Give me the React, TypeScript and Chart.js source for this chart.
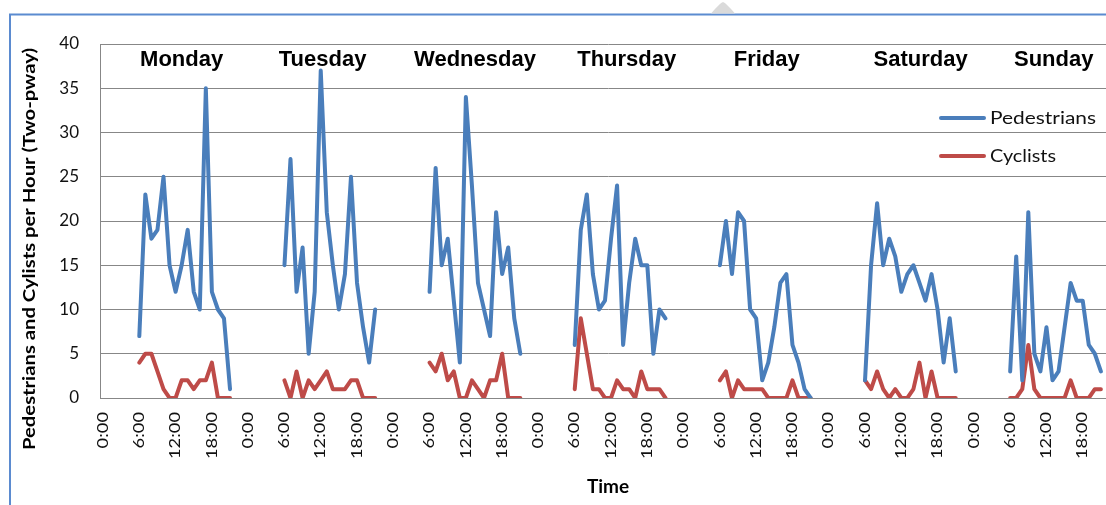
import React, { useEffect, useRef } from 'react';
import { Chart, registerables } from 'chart.js';

Chart.register(...registerables);

// ---------- data ----------
const dayNames = ['Monday', 'Tuesday', 'Wednesday', 'Thursday', 'Friday', 'Saturday', 'Sunday'];
const hourTickLabels = ['0:00', '6:00', '12:00', '18:00'];
const firstHour = 6; // each day's values start at 6:00 and run hourly

// Pedestrians per hour, 6:00 .. 21:00
const pedMon = [7, 23, 18, 19, 25, 15, 12, 15, 19, 12, 10, 35, 12, 10, 9, 1];
const pedTue = [15, 27, 12, 17, 5, 12, 37, 21, 15, 10, 14, 25, 13, 8, 4, 10];
const pedWed = [12, 26, 15, 18, 11, 4, 34, 24, 13, 10, 7, 21, 14, 17, 9, 5];
const pedThu = [6, 19, 23, 14, 10, 11, 18, 24, 6, 13, 18, 15, 15, 5, 10, 9];
const pedFri = [15, 20, 14, 21, 20, 10, 9, 2, 4, 8, 13, 14, 6, 4, 1, 0];
const pedSat = [2, 15, 22, 15, 18, 16, 12, 14, 15, 13, 11, 14, 10, 4, 9, 3];
const pedSun = [3, 16, 2, 21, 5, 3, 8, 2, 3, 8, 13, 11, 11, 6, 5, 3];

// Cyclists per hour, 6:00 .. 21:00
const cycMon = [4, 5, 5, 3, 1, 0, 0, 2, 2, 1, 2, 2, 4, 0, 0, 0];
const cycTue = [2, 0, 3, 0, 2, 1, 2, 3, 1, 1, 1, 2, 2, 0, 0, 0];
const cycWed = [4, 3, 5, 2, 3, 0, 0, 2, 1, 0, 2, 2, 5, 0, 0, 0];
const cycThu = [1, 9, 5, 1, 1, 0, 0, 2, 1, 1, 0, 3, 1, 1, 1, 0];
const cycFri = [2, 3, 0, 2, 1, 1, 1, 1, 0, 0, 0, 0, 2, 0, 0, 0];
const cycSat = [2, 1, 3, 1, 0, 1, 0, 0, 1, 4, 0, 3, 0, 0, 0, 0];
const cycSun = [0, 0, 1, 6, 1, 0, 0, 0, 0, 0, 2, 0, 0, 0, 1, 1];

// hour of the day (within each day) where the day title is centred
const dayTitleHour = [13, 12.3, 13.5, 14.6, 13.75, 15.2, 13.2];

const BLUE = '#4a7ebb';
const RED = '#be4b48';

// ---------- build table ----------
const categories: string[] = [];
dayNames.forEach((d) => {
  for (let h = 0; h < 24; h++) categories.push(`${d} ${h}:00`);
});

function buildWeek(days: number[][]): (number | null)[] {
  const out: (number | null)[] = [];
  days.forEach((day) => {
    for (let h = 0; h < 24; h++) {
      const k = h - firstHour;
      out.push(k >= 0 && k < day.length ? day[k] : null);
    }
  });
  return out;
}

const pedestrians = buildWeek([pedMon, pedTue, pedWed, pedThu, pedFri, pedSat, pedSun]);
const cyclists = buildWeek([cycMon, cycTue, cycWed, cycThu, cycFri, cycSat, cycSun]);

function fitText(ctx: CanvasRenderingContext2D, text: string, target: number) {
  const w = ctx.measureText(text).width;
  return w > 0 ? target / w : 1;
}

const decorPlugin = {
  id: 'decor',
  beforeDraw(chart: any) {
    const ctx: CanvasRenderingContext2D = chart.ctx;
    ctx.save();
    ctx.fillStyle = '#ffffff';
    ctx.fillRect(0, 0, chart.width, chart.height);
    // outer frame (blue)
    ctx.strokeStyle = '#5b8bd0';
    ctx.lineWidth = 2;
    ctx.beginPath();
    ctx.moveTo(10, chart.height);
    ctx.lineTo(10, 14.5);
    ctx.lineTo(chart.width, 14.5);
    ctx.stroke();
    // small grey tab
    ctx.fillStyle = '#dadada';
    ctx.beginPath();
    ctx.moveTo(711, 13.5);
    ctx.quadraticCurveTo(720, 3, 723, 2);
    ctx.quadraticCurveTo(726, 3, 735, 13.5);
    ctx.closePath();
    ctx.fill();
    ctx.restore();
  },
  afterDraw(chart: any) {
    const ctx: CanvasRenderingContext2D = chart.ctx;
    const xs = chart.scales.x;
    ctx.save();
    ctx.fillStyle = '#000';

    // day titles
    ctx.font = 'bold 22px "Liberation Sans", Arial, sans-serif';
    ctx.textAlign = 'center';
    ctx.textBaseline = 'alphabetic';
    dayNames.forEach((d, i) => {
      const x = xs.getPixelForValue(i * 24 + dayTitleHour[i]);
      ctx.fillText(d, x, 66);
    });

    // x tick labels (every 6 hours), rotated
    ctx.font = '14.5px Lato, sans-serif';
    ctx.fillStyle = '#111';
    const sx = fitText(ctx, '12:00', 47);
    for (let i = 0; i < categories.length; i += 6) {
      const label = hourTickLabels[(i % 24) / 6];
      const x = xs.getPixelForValue(i);
      ctx.save();
      ctx.translate(x, 412);
      ctx.rotate(-Math.PI / 2);
      ctx.scale(sx, 1);
      ctx.textAlign = 'right';
      ctx.textBaseline = 'middle';
      ctx.fillText(label, 0, 0);
      ctx.restore();
    }

    // y axis title
    ctx.font = 'bold 17px Lato, sans-serif';
    ctx.fillStyle = '#000';
    const yTitle = 'Pedestrians and Cylists per Hour (Two-pway)';
    const sy = fitText(ctx, yTitle, 402);
    ctx.save();
    ctx.translate(30, 249);
    ctx.rotate(-Math.PI / 2);
    ctx.scale(sy, 1);
    ctx.textAlign = 'center';
    ctx.textBaseline = 'middle';
    ctx.fillText(yTitle, 0, 0);
    ctx.restore();

    // legend
    const legend = [
      { text: 'Pedestrians', color: BLUE, y: 118, w: 106 },
      { text: 'Cyclists', color: RED, y: 156, w: 66 },
    ];
    ctx.font = '18px Lato, sans-serif';
    legend.forEach((l) => {
      ctx.strokeStyle = l.color;
      ctx.lineWidth = 4;
      ctx.lineCap = 'round';
      ctx.beginPath();
      ctx.moveTo(941, l.y);
      ctx.lineTo(984, l.y);
      ctx.stroke();
      ctx.save();
      ctx.translate(990, l.y);
      ctx.scale(fitText(ctx, l.text, l.w), 1);
      ctx.fillStyle = '#111';
      ctx.textAlign = 'left';
      ctx.textBaseline = 'middle';
      ctx.fillText(l.text, 0, 0);
      ctx.restore();
    });
    ctx.restore();
  },
};

export default function App() {
  const ref = useRef<HTMLCanvasElement | null>(null);

  useEffect(() => {
    if (!ref.current) return;
    const chart = new Chart(ref.current, {
      type: 'line',
      data: {
        labels: categories,
        datasets: [
          {
            label: 'Pedestrians',
            data: pedestrians,
            borderColor: BLUE,
            backgroundColor: BLUE,
            borderWidth: 4,
            pointRadius: 0,
            tension: 0,
            spanGaps: false,
            borderJoinStyle: 'round',
            borderCapStyle: 'round',
          },
          {
            label: 'Cyclists',
            data: cyclists,
            borderColor: RED,
            backgroundColor: RED,
            borderWidth: 4,
            pointRadius: 0,
            tension: 0,
            spanGaps: false,
            borderJoinStyle: 'round',
            borderCapStyle: 'round',
          },
        ],
      },
      options: {
        animation: false,
        responsive: false,
        maintainAspectRatio: false,
        layout: { padding: { top: 44, left: 0, right: 0, bottom: 0 } },
        plugins: { legend: { display: false }, tooltip: { enabled: false } },
        scales: {
          x: {
            type: 'category',
            offset: true,
            grid: { display: false, drawTicks: false },
            border: { display: true, color: '#878787', width: 1 },
            ticks: { display: false },
            title: {
              display: true,
              text: 'Time',
              color: '#000',
              font: { family: 'Lato', size: 19, weight: 'bold' },
              padding: { top: 0, bottom: 7 },
            },
            afterFit: (s: any) => {
              s.height = 107;
            },
          },
          y: {
            min: 0,
            max: 40,
            ticks: {
              stepSize: 5,
              padding: 21,
              color: '#111',
              font: { family: 'Lato', size: 17 },
            },
            grid: { color: '#878787', lineWidth: 1, drawTicks: false },
            border: { display: true, color: '#878787', width: 1 },
            afterFit: (s: any) => {
              s.width = 100;
            },
          },
        },
      },
      plugins: [decorPlugin],
    } as any);
    return () => chart.destroy();
  }, []);

  return (
    <div
      style={{
        position: 'fixed',
        left: 0,
        top: 0,
        width: 1106,
        height: 505,
        overflow: 'hidden',
        background: '#fff',
      }}
    >
      <canvas ref={ref} width={1116} height={505} style={{ display: 'block' }} />
    </div>
  );
}
